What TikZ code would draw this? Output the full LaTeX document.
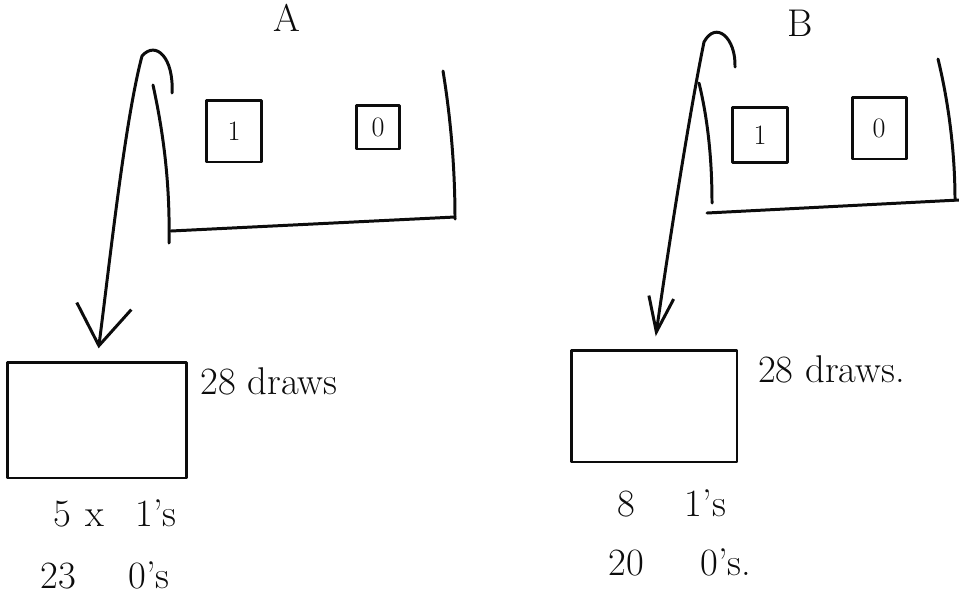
\documentclass[tikz,border=0pt]{standalone}
\usepackage{tikz}
\usetikzlibrary{arrows.meta,positioning}
\definecolor{inkblack}{RGB}{12,12,12}

\begin{document}
\begin{tikzpicture}[x=0.02cm, y=-0.02cm,
  stroke/.style={inkblack, line width=1.7pt, line cap=round, line join=round},
  ball/.style={stroke, draw, inner sep=0pt, font=\fontsize{16}{18}\selectfont},
  hand/.style={text=inkblack, font=\fontsize{22}{26}\selectfont, inner sep=1pt},
  tray/.style={stroke, draw, inner sep=0pt}]
\useasboundingbox (0,0) rectangle (959,596);

% urn A
\draw[stroke] (153,85) .. controls (165,140) and (170,190) .. (169,243);
\draw[stroke] (171,231) -- (455,217);
\draw[stroke] (443,71) .. controls (451,120) and (455,170) .. (455,219);
\node[hand] (urnA) at (287,18) {A};
\node[ball, minimum width=1.1cm, minimum height=1.24cm] (oneA) at (234,131) {1};
\node[ball, minimum width=0.86cm, minimum height=0.88cm] (zeroA) at (378,127) {0};
\coordinate (hookA) at (172,93);

% sample A
\node[tray, minimum width=3.58cm, minimum height=2.32cm] (drawsA) at (97,420) {};
\node[hand, anchor=north west] (countA) at ([xshift=6pt,yshift=-3pt]drawsA.north east) {28 draws};
\node[hand] (onesA) at (115,513) {5\hspace{8pt}x\hspace{18pt}1's};
\node[hand] (zerosA) at (105,575) {23\hspace{30pt}0's};
\draw[stroke, -{Straight Barb[length=8mm, width=11mm, line width=1.7pt]}, shorten >=7pt]
  (hookA) .. controls (174,58) and (156,40) .. (142,56)
  .. controls (125,120) and (110,260) .. (drawsA.north);

% urn B
\draw[stroke] (699,83) .. controls (708,120) and (712,160) .. (712,203);
\draw[stroke] (707,213) -- (959,200);
\draw[stroke] (938,59) .. controls (948,100) and (955,150) .. (955,200);
\node[hand] (urnB) at (800,23) {B};
\node[ball, minimum width=1.1cm, minimum height=1.1cm] (oneB) at (760,135) {1};
\node[ball, minimum width=1.08cm, minimum height=1.24cm] (zeroB) at (879,128) {0};
\coordinate (hookB) at (735,67);

% sample B
\node[tray, minimum width=3.32cm, minimum height=2.24cm] (drawsB) at (654,406) {};
\node[hand, anchor=north west] (countB) at ([xshift=10pt,yshift=-3pt]drawsB.north east) {28 draws.};
\node[hand] (onesB) at (672,503) {8\hspace{28pt}1's};
\node[hand] (zerosB) at (680,562) {20\hspace{32pt}0's.};
\draw[stroke, -{Straight Barb[length=7mm, width=5mm, line width=1.7pt]}, shorten >=7pt]
  (hookB) .. controls (736,38) and (716,20) .. (704,42)
  .. controls (690,110) and (668,250) .. (drawsB.north);
\end{tikzpicture}
\end{document}
